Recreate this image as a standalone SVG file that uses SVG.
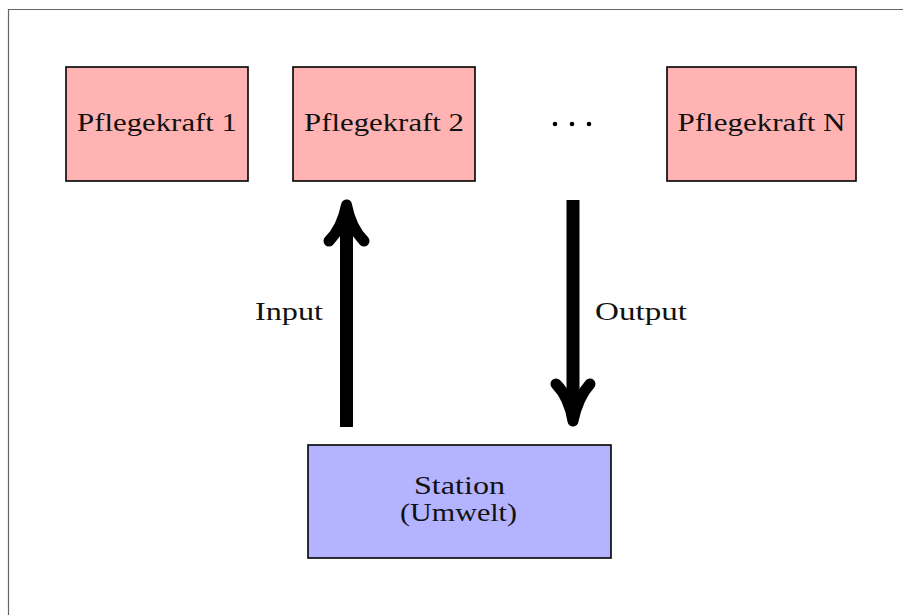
<svg xmlns="http://www.w3.org/2000/svg" width="903" height="615" viewBox="0 0 903 615">
  <style>
    .agent { fill: #ffb3b3; stroke: #000; stroke-width: 1.6; }
    .env { fill: #b3b3ff; stroke: #000; stroke-width: 1.6; }
    .lbl { font-family: "Liberation Serif", "DejaVu Serif", serif; font-size: 26px; fill: #111; }
    .shaft { stroke: #000; stroke-width: 13; fill: none; }
    .head { stroke: #000; stroke-width: 11; fill: none; stroke-linecap: round; stroke-linejoin: round; }
  </style>
  <rect width="903" height="615" fill="#fff"/>
  <!-- page frame -->
  <path d="M8.5 615 V9.5 H903" fill="none" stroke="#666" stroke-width="1.2"/>

  <g id="pflegekraft1">
    <rect class="agent" x="66" y="67" width="182" height="114"/>
    <text class="lbl" x="157" y="131" text-anchor="middle" textLength="160" lengthAdjust="spacingAndGlyphs">Pflegekraft 1</text>
  </g>
  <g id="pflegekraft2">
    <rect class="agent" x="293" y="67" width="182" height="114"/>
    <text class="lbl" x="384" y="131" text-anchor="middle" textLength="160" lengthAdjust="spacingAndGlyphs">Pflegekraft 2</text>
  </g>
  <g id="ellipsis">
    <circle cx="555" cy="124" r="2.3" fill="#000"/>
    <circle cx="572" cy="124" r="2.3" fill="#000"/>
    <circle cx="589" cy="124" r="2.3" fill="#000"/>
  </g>
  <g id="pflegekraftN">
    <rect class="agent" x="667" y="67" width="189" height="114"/>
    <text class="lbl" x="761.5" y="131" text-anchor="middle" textLength="168" lengthAdjust="spacingAndGlyphs">Pflegekraft N</text>
  </g>
  <g id="station">
    <rect class="env" x="308" y="445" width="303" height="113"/>
    <text class="lbl" x="459.5" y="494" text-anchor="middle" textLength="91" lengthAdjust="spacingAndGlyphs">Station</text>
    <text class="lbl" x="458.5" y="521" text-anchor="middle" textLength="117" lengthAdjust="spacingAndGlyphs">(Umwelt)</text>
  </g>

  <g id="connectors">
    <!-- Input: station up to Pflegekraft 2 -->
    <line class="shaft" x1="346.5" y1="427" x2="346.5" y2="212"/>
    <path class="head" d="M329 241 Q342 228 346.5 205 Q351 228 364 241"/>
    <text class="lbl" x="289" y="320" text-anchor="middle" textLength="68" lengthAdjust="spacingAndGlyphs">Input</text>
    <!-- Output: down to station -->
    <line class="shaft" x1="573" y1="200" x2="573" y2="414"/>
    <path class="head" d="M556 384 Q569 397 573 421 Q578 397 590 384"/>
    <text class="lbl" x="641" y="320" text-anchor="middle" textLength="92" lengthAdjust="spacingAndGlyphs">Output</text>
  </g>
</svg>
